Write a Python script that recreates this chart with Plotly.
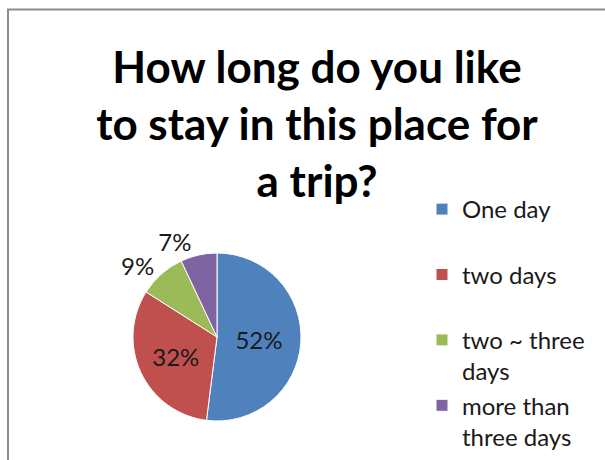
import plotly.graph_objects as go

# Survey: preferred length of stay for a trip
labels = ["One day", "two days", "two ~ three days", "more than three days"]
legend_names = ["One day<br> ", "two days<br> ", "two ~ three<br>days", "more than<br>three days"]
values = [52, 32, 9, 7]
colors = ["#4F81BD", "#C0504D", "#9BBB59", "#8064A2"]

W, H = 605, 460
pie_domain = dict(x=[133 / W, 301 / W], y=[1 - 421 / H, 1 - 253 / H])
label_font = dict(family="Lato", size=24, color="#1a1a1a")

fig = go.Figure()

# Main pie: slices, legend, and the labels of the first three slices
fig.add_trace(
    go.Pie(
        labels=legend_names,
        values=values,
        sort=False,
        direction="clockwise",
        rotation=0,
        marker=dict(colors=colors, line=dict(color="white", width=1)),
        texttemplate="%{percent:.0%}",
        textposition=["inside", "inside", "outside", "none"],
        insidetextorientation="horizontal",
        textfont=label_font,
        hoverinfo="label+percent",
        domain=pie_domain,
    )
)

# Same pie, transparent, carrying only the last label so the two small
# outside labels keep their own spots without leader lines
fig.add_trace(
    go.Pie(
        labels=legend_names,
        values=values,
        sort=False,
        direction="clockwise",
        rotation=0,
        marker=dict(colors=["rgba(0,0,0,0)"] * len(values), line=dict(width=0)),
        texttemplate="%{percent:.0%}",
        textposition=["none", "none", "none", "outside"],
        textfont=label_font,
        hoverinfo="skip",
        showlegend=False,
        domain=pie_domain,
    )
)

fig.update_layout(
    width=W,
    height=H,
    margin=dict(l=0, r=0, t=0, b=0, autoexpand=False),
    paper_bgcolor="white",
    title=dict(
        text="How long do you like<br>to stay in this place for<br>a trip?",
        x=317 / W,
        xanchor="center",
        y=1 - 83 / H,
        yanchor="top",
        font=dict(family="Lato", size=44, color="black", weight="bold"),
    ),
    legend=dict(
        x=422 / W,
        xanchor="left",
        y=1 - 187 / H,
        yanchor="top",
        valign="top",
        font=dict(family="Lato", size=24, color="#1a1a1a"),
        bgcolor="rgba(0,0,0,0)",
        itemwidth=30,
    ),
    shapes=[
        dict(type="line", xref="paper", yref="paper", x0=7 / W, x1=1, y0=1 - 9.5 / H, y1=1 - 9.5 / H,
             line=dict(color="#8c8c8c", width=2)),
        dict(type="line", xref="paper", yref="paper", x0=8 / W, x1=8 / W, y0=0, y1=1 - 9.5 / H,
             line=dict(color="#8c8c8c", width=2)),
    ],
)

fig.write_html("out.html")
